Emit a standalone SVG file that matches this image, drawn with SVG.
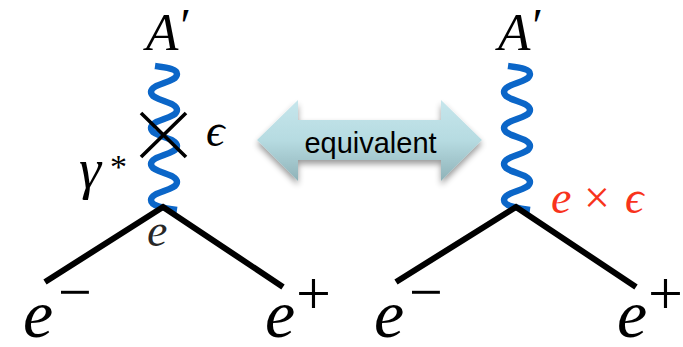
<svg xmlns="http://www.w3.org/2000/svg" width="683" height="347" viewBox="0 0 683 347">
<style>
.m{font-family:"Liberation Serif","DejaVu Serif",serif;font-style:italic;fill:#000}
.u{font-family:"Liberation Serif","DejaVu Serif",serif;fill:#000}
.w{fill:none;stroke:#0b66c8;stroke-width:6.4;stroke-linecap:butt}
.l{fill:none;stroke:#000;stroke-width:6;stroke-linejoin:miter}
.x{stroke:#000;stroke-width:3.6;fill:none}
.r{fill:#f8331c}
</style>
<defs>
<linearGradient id="g" x1="0" y1="0" x2="0" y2="1">
<stop offset="0" stop-color="#c6e6ec"/><stop offset="0.5" stop-color="#b6dbe1"/><stop offset="1" stop-color="#8fb2b8"/>
</linearGradient>
<filter id="s" x="-10%" y="-20%" width="120%" height="150%">
<feGaussianBlur in="SourceAlpha" stdDeviation="3"/><feOffset dy="4"/>
<feComponentTransfer><feFuncA type="linear" slope="0.4"/></feComponentTransfer>
<feMerge><feMergeNode/><feMergeNode in="SourceGraphic"/></feMerge>
</filter>
<path id="wave" class="w" d="M-8 -141C6 -139 14 -138 14 -133C14 -124 -12 -124 -12 -115C-12 -106 14 -106 14 -97C14 -88 -12 -88 -12 -79C-12 -70 14 -70 14 -61C14 -52 -12 -52 -12 -43C-12 -34 14 -34 14 -25C14 -16 -12 -16 -12 -7C-12 -1 0 1 14 3"/>
</defs>
<g id="connectors">
<use href="#wave" x="163" y="207"/>
<use href="#wave" x="516" y="207"/>
<path class="l" d="M45 282L163 207L283 287"/>
<path class="l" d="M396 282L516 207L636 287"/>
<path class="x" d="M141 113L186 157M186 113L141 157"/>
</g>
<g id="node-left-top"><text class="m" x="146" y="50" font-size="53">A<tspan dx="-1" dy="-8" font-size="48">′</tspan></text></g>
<g id="node-left-epsilon"><text class="m" x="206" y="146" font-size="46">ϵ</text></g>
<g id="node-left-gamma"><text class="m" x="79" y="188" font-size="56">γ</text><text class="u" x="110" y="178" font-size="34">*</text></g>
<g id="node-left-e"><text class="m" x="147" y="246" font-size="46" fill-opacity="0.85">e</text></g>
<g id="node-left-em"><text class="m" x="23" y="337" font-size="68">e</text><text class="u" x="58" y="312" font-size="60">−</text></g>
<g id="node-left-ep"><text class="m" x="265" y="337" font-size="68">e</text><text class="u" x="296" y="314" font-size="62">+</text></g>
<g id="node-arrow">
<path d="M257 140L298 100V120H441V100L482 140L441 181V160H298V181Z" fill="url(#g)" filter="url(#s)"/>
<text x="370.500" y="153" text-anchor="middle" font-size="29" font-family="Liberation Sans,Arial,sans-serif" fill="#000">equivalent</text>
</g>
<g id="node-right-top"><text class="m" x="498" y="50" font-size="53">A<tspan dx="-1" dy="-8" font-size="48">′</tspan></text></g>
<g id="node-right-label"><text class="m r" x="551" y="213" font-size="46">e</text><text x="584" y="213" font-size="46" class="u r">×</text><text class="m r" x="625" y="213" font-size="46">ϵ</text></g>
<g id="node-right-em"><text class="m" x="374" y="337" font-size="68">e</text><text class="u" x="409" y="312" font-size="60">−</text></g>
<g id="node-right-ep"><text class="m" x="617" y="337" font-size="68">e</text><text class="u" x="648" y="314" font-size="62">+</text></g>
</svg>
